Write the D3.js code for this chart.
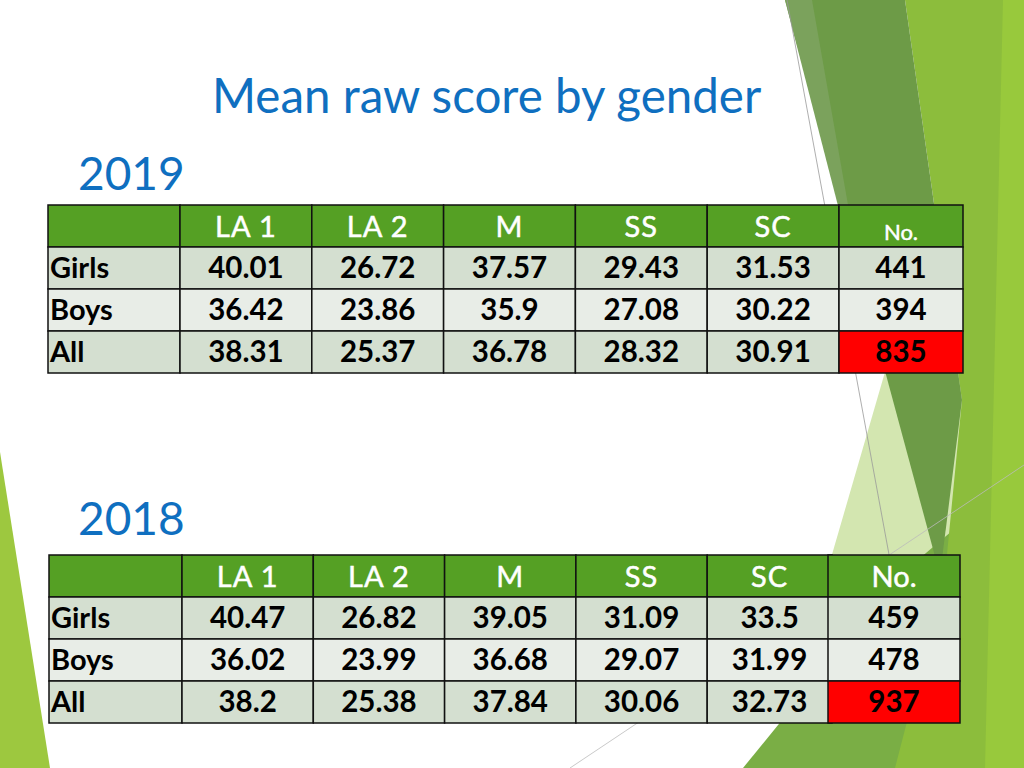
<!DOCTYPE html>
<html>
<head>
<meta charset="utf-8">
<script src="https://cdn.jsdelivr.net/npm/d3@7"></script>
<style>
  body { margin: 0; background: #fff; }
  svg { display: block; }
</style>
</head>
<body>
<div id="slide"></div>
<script>
const width = 1024;
const height = 768;

// data
const subjects = ["LA 1", "LA 2", "M", "SS", "SC"];
const groups = ["Girls", "Boys", "All"];

const girls2019 = [40.01, 26.72, 37.57, 29.43, 31.53];
const boys2019 = [36.42, 23.86, 35.9, 27.08, 30.22];
const all2019 = [38.31, 25.37, 36.78, 28.32, 30.91];
const counts2019 = [441, 394, 835];

const girls2018 = [40.47, 26.82, 39.05, 31.09, 33.5];
const boys2018 = [36.02, 23.99, 36.68, 29.07, 31.99];
const all2018 = [38.2, 25.38, 37.84, 30.06, 32.73];
const counts2018 = [459, 478, 937];

const headerFill = "#55a024";
const rowFills = ["#d4dfd0", "#e8ede7", "#d4dfd0"];
const blue = "#0f6fc0";

const svg = d3.select("#slide").append("svg")
    .attr("width", width)
    .attr("height", height);

svg.append("rect").attr("width", width).attr("height", height).attr("fill", "#fff");

// background facets (theme decoration)
const facets = [
    { fill: "#d3e6b0", pts: [[885, 372], [1024, 300], [1024, 768], [770, 768]] },
    { fill: "#7aae45", pts: [[743, 768], [900, 575], [1024, 470], [1024, 768]] },
    { fill: "#8cbd3c", pts: [[905, 0], [1024, 0], [1024, 768], [895, 768], [945, 575], [962, 400]] },
    { fill: "#98c93c", pts: [[1003, 0], [1024, 0], [1024, 768], [985, 768]] },
    { fill: "#6d9b47", pts: [[785, 0], [905, 0], [962, 400], [940, 575]] },
    { fill: "#7ba25c", pts: [[785, 0], [812, 0], [870, 330]] },
    { fill: "#9dc83f", pts: [[0, 452], [50, 768], [0, 768]] }
];

svg.append("g").selectAll("polygon")
    .data(facets)
    .join("polygon")
    .attr("points", d => d.pts.map(p => p.join(",")).join(" "))
    .attr("fill", d => d.fill);

// thin lines
svg.append("line").attr("x1", 787).attr("y1", 0).attr("x2", 890).attr("y2", 560)
    .attr("stroke", "#999").attr("stroke-width", 0.8);
svg.append("line").attr("x1", 570).attr("y1", 768).attr("x2", 1024).attr("y2", 465)
    .attr("stroke", "#bbb").attr("stroke-width", 0.8);

// title
svg.append("text")
    .attr("x", 212)
    .attr("y", 113)
    .attr("fill", blue)
    .style("font-family", "Lato, 'Open Sans', sans-serif")
    .style("font-size", "47.5px")
    .text("Mean raw score by gender");

const tables = [
    { year: "2019", rows: [girls2019, boys2019, all2019], counts: counts2019,
      yearY: 190, left: 48, labelRight: 180, band: 131.8, mainRight: 839, top: 205, rowH: 42,
      noLeft: 839, noRight: 963, noFont: 22, noDy: 3 },
    { year: "2018", rows: [girls2018, boys2018, all2018], counts: counts2018,
      yearY: 535, left: 49, labelRight: 182, band: 131.3, mainRight: 832, top: 555, rowH: 42,
      noLeft: 828, noRight: 960, noFont: 29, noDy: 0 }
];

tables.forEach(drawTable);

function drawTable(t) {
    const g = svg.append("g");
    const font = "Lato, 'Open Sans', sans-serif";

    g.append("text")
        .attr("x", 78)
        .attr("y", t.yearY)
        .attr("fill", blue)
        .style("font-family", font)
        .style("font-size", "46px")
        .text(t.year);

    const x = d3.scaleBand()
        .domain(subjects)
        .range([t.labelRight, t.labelRight + t.band * subjects.length]);

    const y = d3.scaleBand()
        .domain(["head"].concat(groups))
        .range([t.top, t.top + t.rowH * 4]);

    const cellW = s => Math.min(x.bandwidth(), t.mainRight - x(s));

    // header row
    g.append("rect")
        .attr("x", t.left).attr("y", y("head"))
        .attr("width", t.labelRight - t.left).attr("height", y.bandwidth())
        .attr("fill", headerFill).attr("stroke", "#111").attr("stroke-width", 1.5);

    g.selectAll(".head")
        .data(subjects)
        .join("rect")
        .attr("class", "head")
        .attr("x", d => x(d)).attr("y", y("head"))
        .attr("width", d => cellW(d)).attr("height", y.bandwidth())
        .attr("fill", headerFill).attr("stroke", "#111").attr("stroke-width", 1.5);

    g.selectAll(".headText")
        .data(subjects)
        .join("text")
        .attr("class", "headText")
        .attr("x", d => x(d) + cellW(d) / 2)
        .attr("y", y("head") + y.bandwidth() / 2 + 11)
        .attr("text-anchor", "middle")
        .attr("fill", "#fff")
        .attr("stroke", "#fff")
        .attr("stroke-width", 0.5)
        .style("font-family", font)
        .style("font-size", "29px")
        .style("letter-spacing", "1px")
        .text(d => d);

    // body rows
    groups.forEach((grp, i) => {
        g.append("rect")
            .attr("x", t.left).attr("y", y(grp))
            .attr("width", t.labelRight - t.left).attr("height", y.bandwidth())
            .attr("fill", rowFills[i]).attr("stroke", "#111").attr("stroke-width", 1.5);

        g.append("text")
            .attr("x", t.left + 2)
            .attr("y", y(grp) + y.bandwidth() / 2 + 10)
            .attr("fill", "#000")
            .style("font-family", font)
            .style("font-weight", "bold")
            .style("font-size", "29px")
            .text(grp);

        const cells = subjects.map((s, j) => ({ s, v: t.rows[i][j] }));

        g.selectAll(".cell" + i)
            .data(cells)
            .join("rect")
            .attr("x", d => x(d.s)).attr("y", y(grp))
            .attr("width", d => cellW(d.s)).attr("height", y.bandwidth())
            .attr("fill", rowFills[i]).attr("stroke", "#111").attr("stroke-width", 1.5);

        g.selectAll(".val" + i)
            .data(cells)
            .join("text")
            .attr("x", d => x(d.s) + cellW(d.s) / 2)
            .attr("y", y(grp) + y.bandwidth() / 2 + 10)
            .attr("text-anchor", "middle")
            .attr("fill", "#000")
            .style("font-family", font)
            .style("font-weight", "bold")
            .style("font-size", "29.5px")
            .text(d => String(d.v));
    });

    // separate "No." table
    const noW = t.noRight - t.noLeft;
    g.append("rect")
        .attr("x", t.noLeft).attr("y", y("head"))
        .attr("width", noW).attr("height", y.bandwidth())
        .attr("fill", headerFill).attr("stroke", "#111").attr("stroke-width", 1.5);
    g.append("text")
        .attr("x", t.noLeft + noW / 2)
        .attr("y", y("head") + y.bandwidth() / 2 + 11 + t.noDy)
        .attr("text-anchor", "middle")
        .attr("fill", "#fff")
        .attr("stroke", "#fff")
        .attr("stroke-width", 0.5)
        .style("font-family", font)
        .style("font-size", t.noFont + "px")
        .text("No.");

    g.selectAll(".count")
        .data(t.counts)
        .join("rect")
        .attr("class", "count")
        .attr("x", t.noLeft).attr("y", (d, i) => y(groups[i]))
        .attr("width", noW).attr("height", y.bandwidth())
        .attr("fill", (d, i) => i === 2 ? "#ff0000" : rowFills[i])
        .attr("stroke", "#111").attr("stroke-width", 1.5);

    g.selectAll(".countText")
        .data(t.counts)
        .join("text")
        .attr("class", "countText")
        .attr("x", t.noLeft + noW / 2)
        .attr("y", (d, i) => y(groups[i]) + y.bandwidth() / 2 + 10)
        .attr("text-anchor", "middle")
        .attr("fill", "#000")
        .style("font-family", font)
        .style("font-weight", "bold")
        .style("font-size", "29.5px")
        .text(d => d);
}
</script>
</body>
</html>
